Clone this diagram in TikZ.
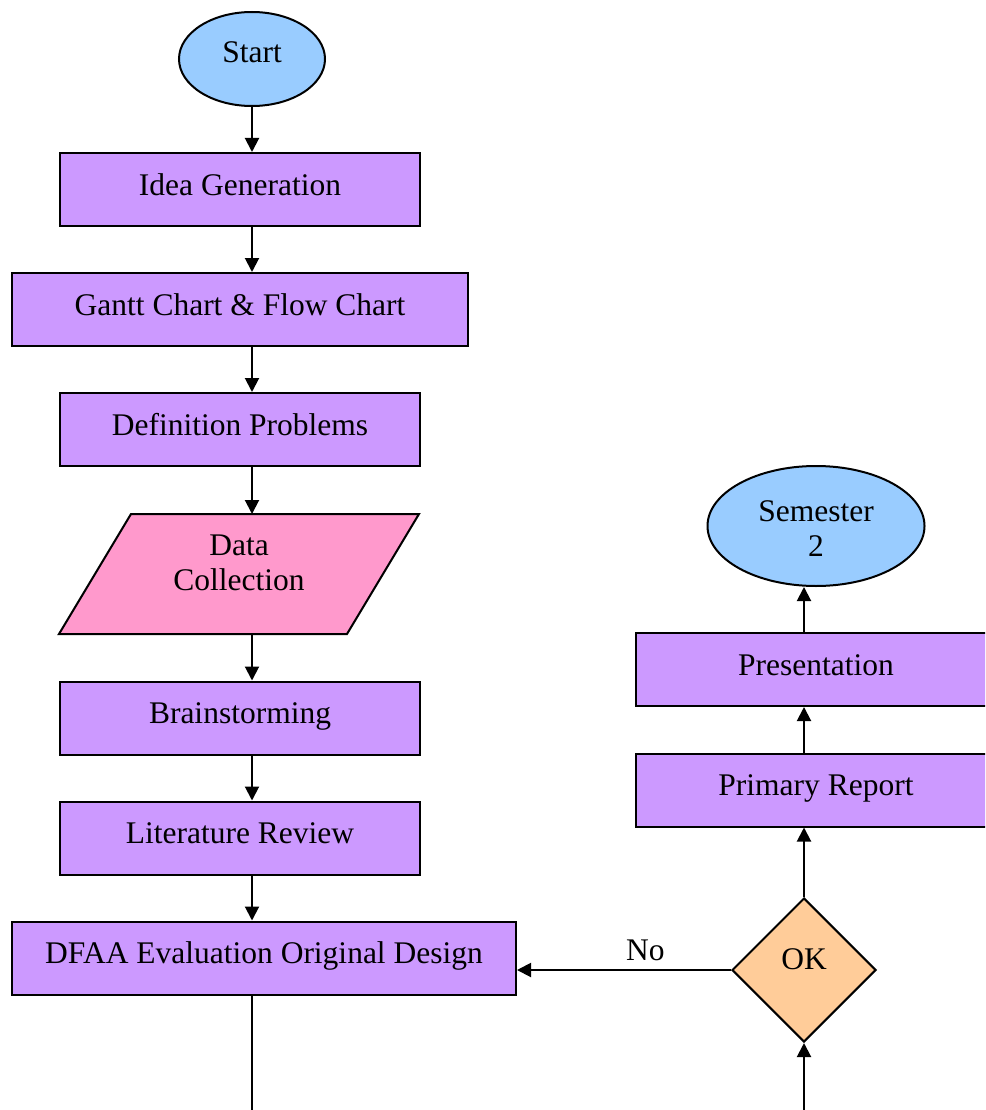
\documentclass[tikz,border=0pt]{standalone}
\usepackage{fontspec}
\setmainfont{Liberation Serif}
\usetikzlibrary{arrows.meta,shapes.geometric}
\definecolor{boxpurple}{HTML}{CC99FF}
\definecolor{datapink}{HTML}{FF99CC}
\definecolor{termblue}{HTML}{99CCFF}
\definecolor{decorange}{HTML}{FFCC99}
\tikzset{
  base/.style={draw=black, line width=2pt, font=\fontsize{31.5}{35}\selectfont, inner sep=0pt},
  procbox/.style={base, rectangle, fill=boxpurple, minimum height=73pt, text height=18pt, text depth=7pt},
  termnode/.style={base, ellipse, fill=termblue},
  decnode/.style={base, diamond, fill=decorange, minimum width=144pt, minimum height=144pt, text height=18pt, text depth=20pt},
  datashape/.style={draw=black, line width=2pt, fill=datapink},
  arr/.style={line width=2pt, -{Triangle[length=14pt,width=14pt]}},
  conn/.style={line width=2pt},
  lbl/.style={font=\fontsize{31.5}{35}\selectfont, inner sep=0pt},
}
\begin{document}
\begin{tikzpicture}[x=1pt,y=-1pt]
\useasboundingbox (0,0) rectangle (985,1110);
\clip (0,0) rectangle (985,1110);

\coordinate (ax) at (252,0);
\coordinate (bx) at (804,0);

% left column
\node[termnode, minimum width=146pt, minimum height=94pt, text height=18pt, text depth=11pt] (start) at (252,59) {Start};
\node[procbox, minimum width=360pt] (idea) at (240,189.5) {Idea Generation};
\node[procbox, minimum width=456pt] (gantt) at (240,309.5) {Gantt Chart \& Flow Chart};
\node[procbox, minimum width=360pt] (defn) at (240,429.5) {Definition Problems};

\filldraw[datashape] (131,514) -- (419,514) -- (347,634) -- (59,634) -- cycle;
\coordinate (dtop) at (252,514);
\coordinate (dbot) at (252,634);
\node[lbl, align=center] (data) at (239,563) {Data\\Collection};

\node[procbox, minimum width=360pt] (brain) at (240,718) {Brainstorming};
\node[procbox, minimum width=360pt] (lit) at (240,838) {Literature Review};
\node[procbox, minimum width=504pt] (dfaa) at (264,958) {DFAA Evaluation Original Design};

% right column
\node[termnode, minimum width=217pt, minimum height=120pt] (sem) at (816,526) {};
\node[lbl, align=center] (semtext) at (816,529) {Semester\\2};
\node[procbox, minimum width=360pt] (pres) at (816,669.5) {Presentation};
\node[procbox, minimum width=360pt] (prim) at (816,790) {Primary Report};
\node[decnode] (ok) at (804,970) {OK};

\coordinate (b1) at (252,1110);
\coordinate (b2) at (804,1110);

% connectors left
\draw[arr] (start.south -| ax) -- (idea.north -| ax);
\draw[arr] (idea.south -| ax) -- (gantt.north -| ax);
\draw[arr] (gantt.south -| ax) -- (defn.north -| ax);
\draw[arr] (defn.south -| ax) -- (dtop);
\draw[arr] (dbot) -- (brain.north -| ax);
\draw[arr] (brain.south -| ax) -- (lit.north -| ax);
\draw[arr] (lit.south -| ax) -- (dfaa.north -| ax);
\draw[conn] (dfaa.south -| ax) -- (b1);

% connectors right
\draw[arr] (b2) -- (ok.south);
\draw[arr] (ok.north) -- (prim.south -| bx);
\draw[arr] (prim.north -| bx) -- (pres.south -| bx);
\draw[arr] (pres.north -| bx) -- (sem.south -| bx);
\draw[arr] (ok.west) -- (ok.west -| dfaa.east)
  node[lbl, pos=0.4, above, yshift=8pt] (no) {No};
\end{tikzpicture}
\end{document}
